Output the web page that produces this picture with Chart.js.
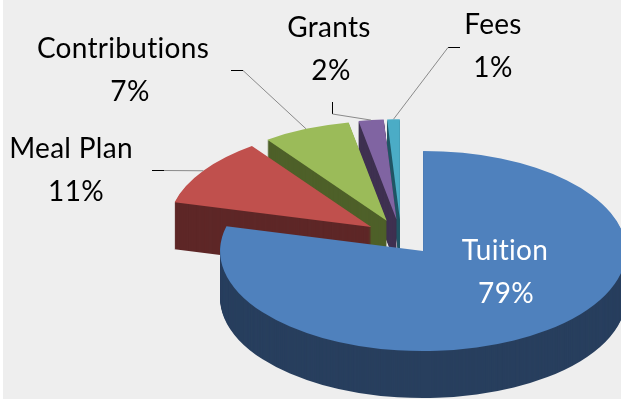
<!DOCTYPE html>
<html>
<head>
<meta charset="utf-8">
<style>
  html, body { margin: 0; padding: 0; background: #ffffff; }
  canvas { display: block; }
</style>
<script src="https://cdn.jsdelivr.net/npm/chart.js@4.4.0/dist/chart.umd.min.js"></script>
</head>
<body>
<canvas id="chart" width="621" height="402"></canvas>
<script>
// ---------------- data ----------------
const categories = ['Tuition', 'Meal Plan', 'Contributions', 'Grants', 'Fees'];
const values = [79, 11, 7, 2, 1];
const percentLabels = ['79%', '11%', '7%', '2%', '1%'];

// ---------------- styles ----------------
const topColors  = ['#4F81BD', '#C0504D', '#9BBB59', '#8064A2', '#4BACC6'];
const sideColors = ['#283F5E', '#5E2727', '#4E6029', '#3F3151', '#215766'];
const BG = '#EEEEEE';
const PIE = { cx: 401, cy: 237, radius: 203, tilt: 0.493, depth: 47, explode: 36 };
const FONT = '28px Lato, "Open Sans", sans-serif';
const LINE_GAP = 43;

// label placement: text centre x for each line, first baseline, leader elbow
const labelLayout = [
  { x: [505, 506], y: 260, color: '#FFFFFF', leader: null },
  { x: [71, 76],   y: 158, color: '#000000', leader: { tick: [[152, 170.5], [164, 170.5]], from: [164, 170.5] } },
  { x: [123, 130], y: 58,  color: '#000000', leader: { tick: [[231, 70.5], [243, 70.5]],  from: [243, 70.5] } },
  { x: [329, 331], y: 37,  color: '#000000', leader: { tick: [[332.5, 102], [332.5, 114]], from: [332.5, 114] } },
  { x: [493, 493], y: 34,  color: '#000000', leader: { tick: [[448, 47.5], [460, 47.5]],  from: [448, 47.5] } }
];

// map a point given in the chart's circle coordinates to screen
function project(arc, px, py, drop) {
  return [PIE.cx + (px - arc.x), PIE.cy + drop + (py - arc.y) * PIE.tilt];
}

const backgroundPlugin = {
  id: 'bg',
  beforeDraw(chart) {
    const ctx = chart.ctx;
    ctx.save();
    ctx.fillStyle = '#FFFFFF';
    ctx.fillRect(0, 0, chart.width, chart.height);
    ctx.fillStyle = BG;
    ctx.fillRect(3, 0, chart.width - 3, chart.height - 3);
    ctx.restore();
  }
};

function drawArcWith(arc, ctx, color) {
  const clone = Object.create(arc);
  clone.options = Object.assign({}, arc.options, {
    backgroundColor: color, borderWidth: 0, offset: 0, spacing: 0
  });
  arc.draw.call(clone, ctx);
}

const pie3dPlugin = {
  id: 'pie3d',
  beforeDatasetsDraw(chart) {
    const ctx = chart.ctx;
    const meta = chart.getDatasetMeta(0);
    const order = meta.data.map((a, i) => i);
    const mid = a => (a.startAngle + a.endAngle) / 2;
    // back to front
    order.sort((i, j) => Math.sin(mid(meta.data[i])) - Math.sin(mid(meta.data[j])));
    for (const i of order) {
      const arc = meta.data[i];
      const h = mid(arc);
      const ex = Math.cos(h) * PIE.explode;
      const ey = Math.sin(h) * PIE.explode;
      for (let d = PIE.depth; d >= 0; d--) {
        ctx.save();
        ctx.translate(PIE.cx, PIE.cy + d);
        ctx.scale(1, PIE.tilt);
        ctx.translate(-arc.x + ex, -arc.y + ey);
        drawArcWith(arc, ctx, d > 0 ? sideColors[i] : topColors[i]);
        ctx.restore();
      }
    }
    return false;
  },
  afterDraw(chart) {
    const ctx = chart.ctx;
    const meta = chart.getDatasetMeta(0);
    ctx.save();
    // leader lines
    meta.data.forEach((arc, i) => {
      const L = labelLayout[i].leader;
      if (!L) return;
      const h = (arc.startAngle + arc.endAngle) / 2;
      const r = arc.outerRadius + PIE.explode;
      const anchor = project(arc, arc.x + Math.cos(h) * r, arc.y + Math.sin(h) * r, 0);
      ctx.lineWidth = 1;
      ctx.strokeStyle = '#000000';
      ctx.beginPath();
      ctx.moveTo(L.tick[0][0], L.tick[0][1]);
      ctx.lineTo(L.tick[1][0], L.tick[1][1]);
      ctx.stroke();
      ctx.strokeStyle = '#8A8A8A';
      ctx.beginPath();
      ctx.moveTo(L.from[0], L.from[1]);
      ctx.lineTo(anchor[0], anchor[1]);
      ctx.stroke();
    });
    // texts (non-zero letter spacing turns off the "ti" ligature of Lato)
    ctx.font = FONT;
    if ('letterSpacing' in ctx) ctx.letterSpacing = '0.3px';
    ctx.textAlign = 'center';
    ctx.textBaseline = 'alphabetic';
    categories.forEach((name, i) => {
      const lay = labelLayout[i];
      ctx.fillStyle = lay.color;
      ctx.fillText(name, lay.x[0], lay.y);
      ctx.fillText(percentLabels[i], lay.x[1], lay.y + LINE_GAP);
    });
    ctx.restore();
  }
};

new Chart(document.getElementById('chart'), {
  type: 'pie',
  data: {
    labels: categories,
    datasets: [{
      data: values,
      backgroundColor: topColors,
      borderWidth: 0
    }]
  },
  options: {
    responsive: false,
    animation: false,
    events: [],
    radius: PIE.radius,
    rotation: 0,
    layout: { padding: 0 },
    plugins: { legend: { display: false }, tooltip: { enabled: false } }
  },
  plugins: [backgroundPlugin, pie3dPlugin]
});
</script>
</body>
</html>
